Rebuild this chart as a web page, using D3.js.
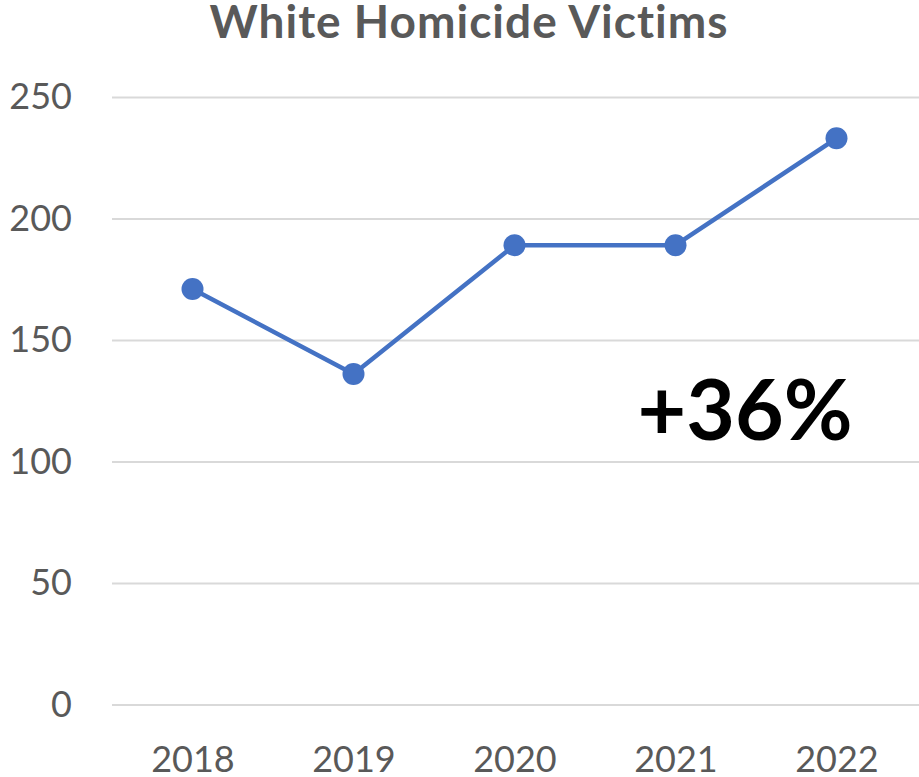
<!DOCTYPE html>
<html>
<head>
<meta charset="utf-8">
<script src="https://cdn.jsdelivr.net/npm/d3@7"></script>
<style>
  html, body { margin: 0; padding: 0; background: #fff; }
  svg { display: block; }
</style>
</head>
<body>
<svg id="chart" width="919" height="777"></svg>
<script>
const years = ["2018", "2019", "2020", "2021", "2022"];
const victims = [171, 136, 189, 189, 233];
const yTicks = [0, 50, 100, 150, 200, 250];
const chartTitle = "White Homicide Victims";
const changeLabel = "+36%";

const svg = d3.select("#chart");
const plot = { left: 112, right: 917, top: 97, bottom: 704.5 };

const x = d3.scalePoint().domain(years).range([plot.left, plot.right]).padding(0.5);
const y = d3.scaleLinear().domain([0, 250]).range([plot.bottom, plot.top]);

// title
svg.append("text")
  .attr("x", 469).attr("y", 38)
  .attr("text-anchor", "middle")
  .attr("font-family", "Lato, 'Open Sans', sans-serif")
  .attr("font-weight", "bold")
  .attr("font-size", 46)
  .attr("letter-spacing", 1)
  .attr("fill", "#595959")
  .text(chartTitle);

// gridlines + y labels
const yAxis = d3.axisLeft(y).tickValues(yTicks).tickSize(-(919 - plot.left)).tickPadding(40);
const gy = svg.append("g").attr("transform", `translate(${plot.left},0)`).call(yAxis);
gy.select(".domain").remove();
gy.selectAll(".tick line").attr("stroke", "#d9d9d9").attr("stroke-width", 2);
gy.selectAll(".tick text")
  .attr("font-family", "Lato, 'Open Sans', sans-serif")
  .attr("font-size", 36)
  .attr("fill", "#595959");

// x axis labels
const xAxis = d3.axisBottom(x).tickSize(0).tickPadding(0);
const gx = svg.append("g").attr("transform", `translate(0,${plot.bottom})`).call(xAxis);
gx.select(".domain").remove();
gx.selectAll(".tick text")
  .attr("dy", null)
  .attr("y", 67)
  .attr("font-family", "Lato, 'Open Sans', sans-serif")
  .attr("font-size", 36)
  .attr("fill", "#595959");

// line
const data = years.map((yr, i) => ({ year: yr, value: victims[i] }));
svg.append("path")
  .datum(data)
  .attr("fill", "none")
  .attr("stroke", "#4472C4")
  .attr("stroke-width", 4.5)
  .attr("stroke-linejoin", "round")
  .attr("d", d3.line().x(d => x(d.year)).y(d => y(d.value)));

svg.selectAll("circle.pt")
  .data(data)
  .join("circle")
  .attr("class", "pt")
  .attr("cx", d => x(d.year))
  .attr("cy", d => y(d.value))
  .attr("r", 11)
  .attr("fill", "#4472C4");

// annotation
svg.append("text")
  .attr("x", 745).attr("y", 440)
  .attr("text-anchor", "middle")
  .attr("font-family", "Lato, 'Open Sans', sans-serif")
  .attr("font-weight", "bold")
  .attr("font-size", 84)
  .attr("fill", "#000")
  .text(changeLabel);
</script>
</body>
</html>
